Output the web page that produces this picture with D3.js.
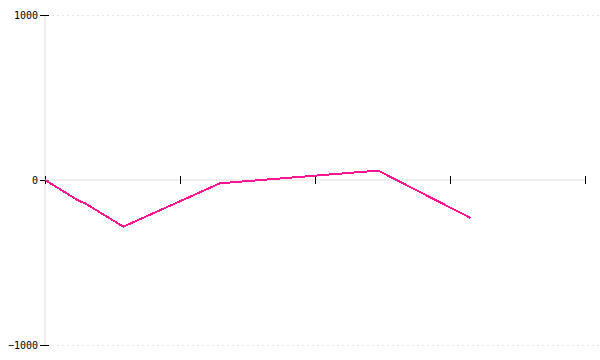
<!DOCTYPE html>
<html>
<head>
<meta charset="utf-8">
<script src="https://cdn.jsdelivr.net/npm/d3@7"></script>
<style>
body { margin: 0; background: #fff; }
svg text { font-family: "DejaVu Sans Mono", monospace; font-size: 10px; }
</style>
</head>
<body>
<svg id="main_svg" width="600" height="360"></svg>
<script>
// values
let xs = [0, 6.3, 7.4, 14.5, 32.4, 61.7, 78.8]
let ys = [0, -127, -141, -283, -20, 57, -230]
let xTicks = [0, 25, 50, 75, 100]
let yTicks = [-1000, 0, 1000]

let svg = d3.select("svg")
let x = d3.scaleLinear().domain([0, 100]).range([45, 585])
let y = d3.scaleLinear().domain([-1000, 1000]).range([345, 15])

// dotted grid at the extremes
svg.selectAll(".grid")
    .data([-1000, 1000])
    .enter().append("line")
    .attr("x1", 52).attr("x2", 600)
    .attr("y1", d => y(d) + 0.5).attr("y2", d => y(d) + 0.5)
    .attr("stroke", "#e6e6e6")
    .attr("stroke-dasharray", "2,3")

// y axis
let yAxis = svg.append("g")
    .attr("transform", "translate(45,0)")
    .call(d3.axisLeft(y).tickValues(yTicks).tickSize(5).tickPadding(2).tickFormat(d3.format("d")))
yAxis.select(".domain").attr("stroke", "#ddd").attr("d", "M0," + y(1000) + "V" + y(-1000))
yAxis.selectAll(".tick line").attr("x1", -5).attr("x2", 4).attr("stroke", "#000")
yAxis.selectAll(".tick text").attr("fill", "#000").style("font-size", "10px").attr("font-family", null)

// x axis on zero
let xAxis = svg.append("g")
    .attr("transform", "translate(0," + y(0) + ")")
    .call(d3.axisBottom(x).tickValues(xTicks).tickSize(4).tickFormat(""))
xAxis.select(".domain").attr("stroke", "#ddd").attr("d", "M" + x(0) + ",0H" + x(100))
xAxis.selectAll(".tick line").attr("y1", -4).attr("y2", 4).attr("stroke", "#000")

// the series
let line = d3.line()
    .x((d, i) => x(xs[i]))
    .y(d => y(d))

svg.append("path")
    .datum(ys)
    .attr("d", line)
    .attr("fill", "none")
    .attr("stroke", "#ff1493")
    .attr("stroke-width", 2)
    .attr("shape-rendering", "crispEdges")
</script>
</body>
</html>
